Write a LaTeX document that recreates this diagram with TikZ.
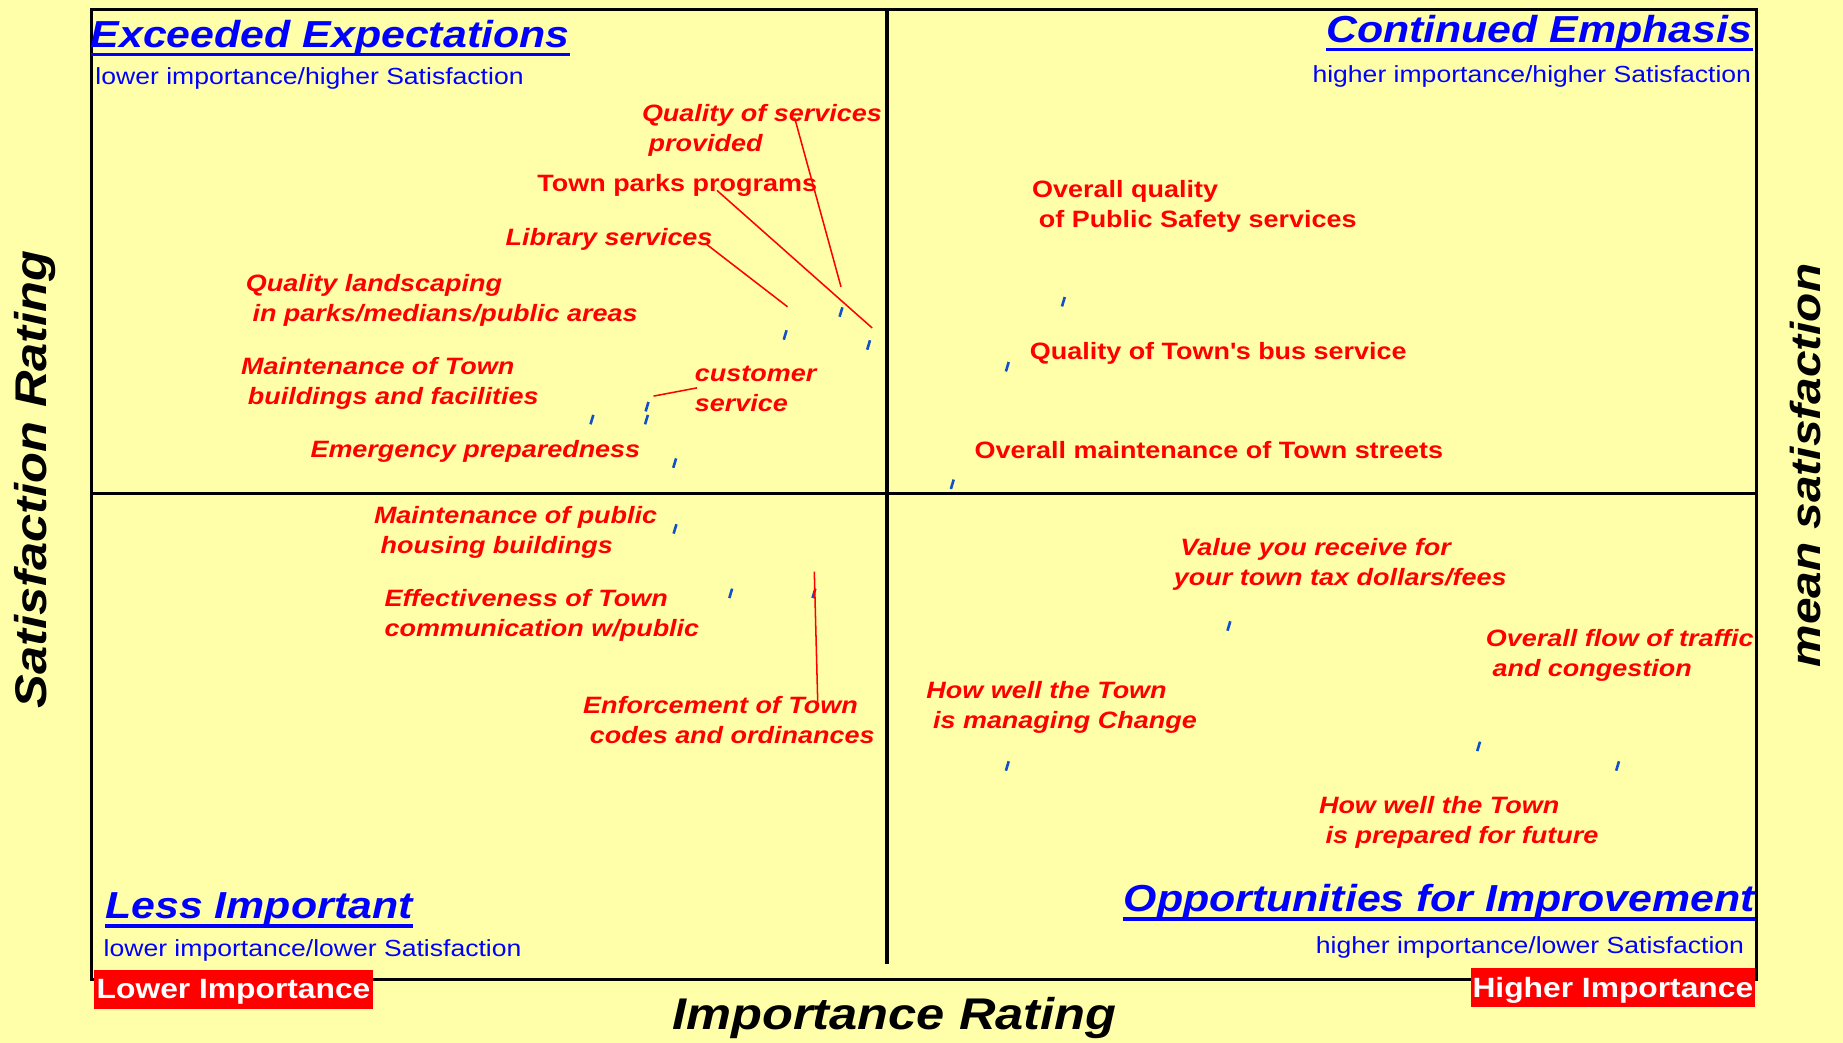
\documentclass[tikz,border=0pt]{standalone}
\usepackage{fontspec}
\setmainfont{Liberation Sans}[FakeStretch=1.14]
\definecolor{bgyellow}{RGB}{255,255,170}
\definecolor{markblue}{RGB}{16,80,200}
\newcommand\ind{\hspace*{0.28em}}
\newcommand\lblfont{\fontsize{20.2}{25.8}\selectfont\bfseries}

\begin{document}
\begin{tikzpicture}[x=1bp,y=-1bp]
        \tikzstyle{quad}=[text=blue, inner sep=0pt, font=\fontsize{32.1}{36}\selectfont\bfseries\itshape]
        \tikzstyle{quadsub}=[text=blue, inner sep=0pt, font=\fontsize{19.9}{24}\selectfont]
        \tikzstyle{lbl}=[text=red, inner sep=0pt, anchor=north west, align=left, font=\lblfont\itshape]
        \tikzstyle{lblup}=[lbl, font=\lblfont\upshape]
        \tikzstyle{axis}=[inner sep=0pt, anchor=base, font=\fontsize{37.9}{42}\selectfont\bfseries\itshape]
        \tikzstyle{endbox}=[fill=red, text=white, inner sep=0pt, anchor=north west, minimum height=33bp, text depth=1bp, font=\fontsize{23.8}{28}\selectfont\bfseries]
        \tikzstyle{uline}=[blue, line width=3bp]
        \tikzstyle{lead}=[red, line width=1.3bp]
        \tikzstyle{dmark}=[markblue, line width=2.2bp]

        \useasboundingbox (0,0) rectangle (1568,887);
        \fill[bgyellow] (0,0) rectangle (1568,887);

        % frame and quadrants
        \draw[line width=2.5bp] (78,8) rectangle (1494,833);
        \draw[line width=2.8bp] (78,420) -- (1494,420);
        \draw[line width=3.6bp] (754.6,8) -- (754.6,820);

        \node[quad, anchor=base west] (ee) at (77,40) {Exceeded Expectations};
        \draw[uline] ([yshift=-6.5bp]ee.base west) -- ([yshift=-6.5bp]ee.base east);
        \node[quadsub, anchor=base west] (eesub) at (81,72.3) {lower importance/higher Satisfaction};
        \node[quad, anchor=base east] (ce) at (1491,36.3) {Continued Emphasis};
        \draw[uline] ([yshift=-6bp]ce.base west) -- ([yshift=-6bp]ce.base east);
        \node[quadsub, anchor=base east] (cesub) at (1490,70.3) {higher importance/higher Satisfaction};
        \node[quad, anchor=base west] (li) at (89.5,781.3) {Less Important};
        \draw[uline] ([yshift=-6.3bp]li.base west) -- ([yshift=-6.3bp]li.base east);
        \node[quadsub, anchor=base west] (lisub) at (88,813.4) {lower importance/lower Satisfaction};
        \node[quad, anchor=base east] (oi) at (1493,775.6) {Opportunities for Improvement};
        \draw[uline] ([yshift=-6.4bp]oi.base west) -- ([yshift=-6.4bp]oi.base east);
        \node[quadsub, anchor=base east] (oisub) at (1484,811) {higher importance/lower Satisfaction};

        \node[endbox, minimum width=237bp] (lowimp) at (80,825) {Lower Importance};
        \node[endbox, minimum width=242bp] (highimp) at (1251,823.5) {Higher Importance};

        \node[axis] (xaxis) at (761,876) {Importance Rating};
        \node[axis, rotate=90] (yaxis) at (39.7,408) {Satisfaction Rating};
        \node[axis, rotate=90, font=\fontsize{35.8}{40}\selectfont\bfseries\itshape] (mean) at (1548.5,396) {mean satisfaction};

        % item labels
        \node[lbl] (qserv) at (546,85.4) {\strut Quality of services\\\ind provided};
        \node[lblup] (parks) at (457,145) {\strut Town parks programs};
        \node[lbl] (lib) at (430,190.4) {\strut Library services};
        \node[lbl] (land) at (209,230) {\strut Quality landscaping\\\ind in parks/medians/public areas};
        \node[lbl] (bldg) at (205,300) {\strut Maintenance of Town\\\ind buildings and facilities};
        \node[lbl] (cust) at (591,306.6) {\strut customer\\service};
        \node[lbl] (emerg) at (264,371.3) {\strut Emergency preparedness};
        \node[lblup] (psafe) at (878,150) {\strut Overall quality\\\ind of Public Safety services};
        \node[lblup] (bus) at (876,287.6) {\strut Quality of Town\textquotesingle s bus service};
        \node[lblup] (streets) at (829,372) {\strut Overall maintenance of Town streets};
        \node[lbl] (phous) at (318,427) {\strut Maintenance of public\\\ind housing buildings};
        \node[lbl] (comm) at (327,498) {\strut Effectiveness of Town\\communication w/public};
        \node[lbl] (enf) at (496,588.7) {\strut Enforcement of Town\\\ind codes and ordinances};
        \node[lbl] (value) at (998.5,454) {\strut\ind Value you receive for\\your town tax dollars/fees};
        \node[lbl] (traffic) at (1264,532) {\strut Overall flow of traffic\\\ind and congestion};
        \node[lbl] (change) at (788,576) {\strut How well the Town\\\ind is managing Change};
        \node[lbl] (future) at (1122,673.7) {\strut How well the Town\\\ind is prepared for future};

        % data points
        \coordinate (p-qserv) at (715.5,265.5);
        \coordinate (p-parks) at (739,293.5);
        \coordinate (p-lib) at (668,285);
        \coordinate (p-land) at (550,357);
        \coordinate (p-bldg) at (503.6,357);
        \coordinate (p-cust) at (550.5,346);
        \coordinate (p-emerg) at (574,394);
        \coordinate (p-psafe) at (904.7,256.7);
        \coordinate (p-bus) at (857,312);
        \coordinate (p-streets) at (810.2,412);
        \coordinate (p-phous) at (574.3,450);
        \coordinate (p-comm) at (621.7,504.8);
        \coordinate (p-enf) at (692.5,504.8);
        \coordinate (p-value) at (1045.5,532.6);
        \coordinate (p-traffic) at (1376.2,651.7);
        \coordinate (p-change) at (857,651.7);
        \coordinate (p-future) at (1258,635);
        \foreach \p in {qserv,parks,lib,land,bldg,cust,emerg,psafe,bus,streets,phous,comm,enf,value,traffic,change,future}
            \draw[dmark] ([shift={(-1.2,4)}]p-\p) -- ([shift={(1.2,-4)}]p-\p);

        % leader lines
        \coordinate (qserv-pin) at (676,100);
        \coordinate (qserv-end) at (715.5,244);
        \coordinate (parks-pin) at (610,162);
        \coordinate (parks-end) at (742,279);
        \coordinate (lib-pin) at (600,207);
        \coordinate (lib-end) at (670,261);
        \coordinate (cust-pin) at (593,330);
        \coordinate (cust-end) at (556,337);
        \coordinate (enf-end) at (692.8,486.4);
        \coordinate (enf-pin) at (695.7,597);
        \foreach \l in {qserv,parks,lib,cust,enf}
            \draw[lead] (\l-pin) -- (\l-end);
\end{tikzpicture}
\end{document}
